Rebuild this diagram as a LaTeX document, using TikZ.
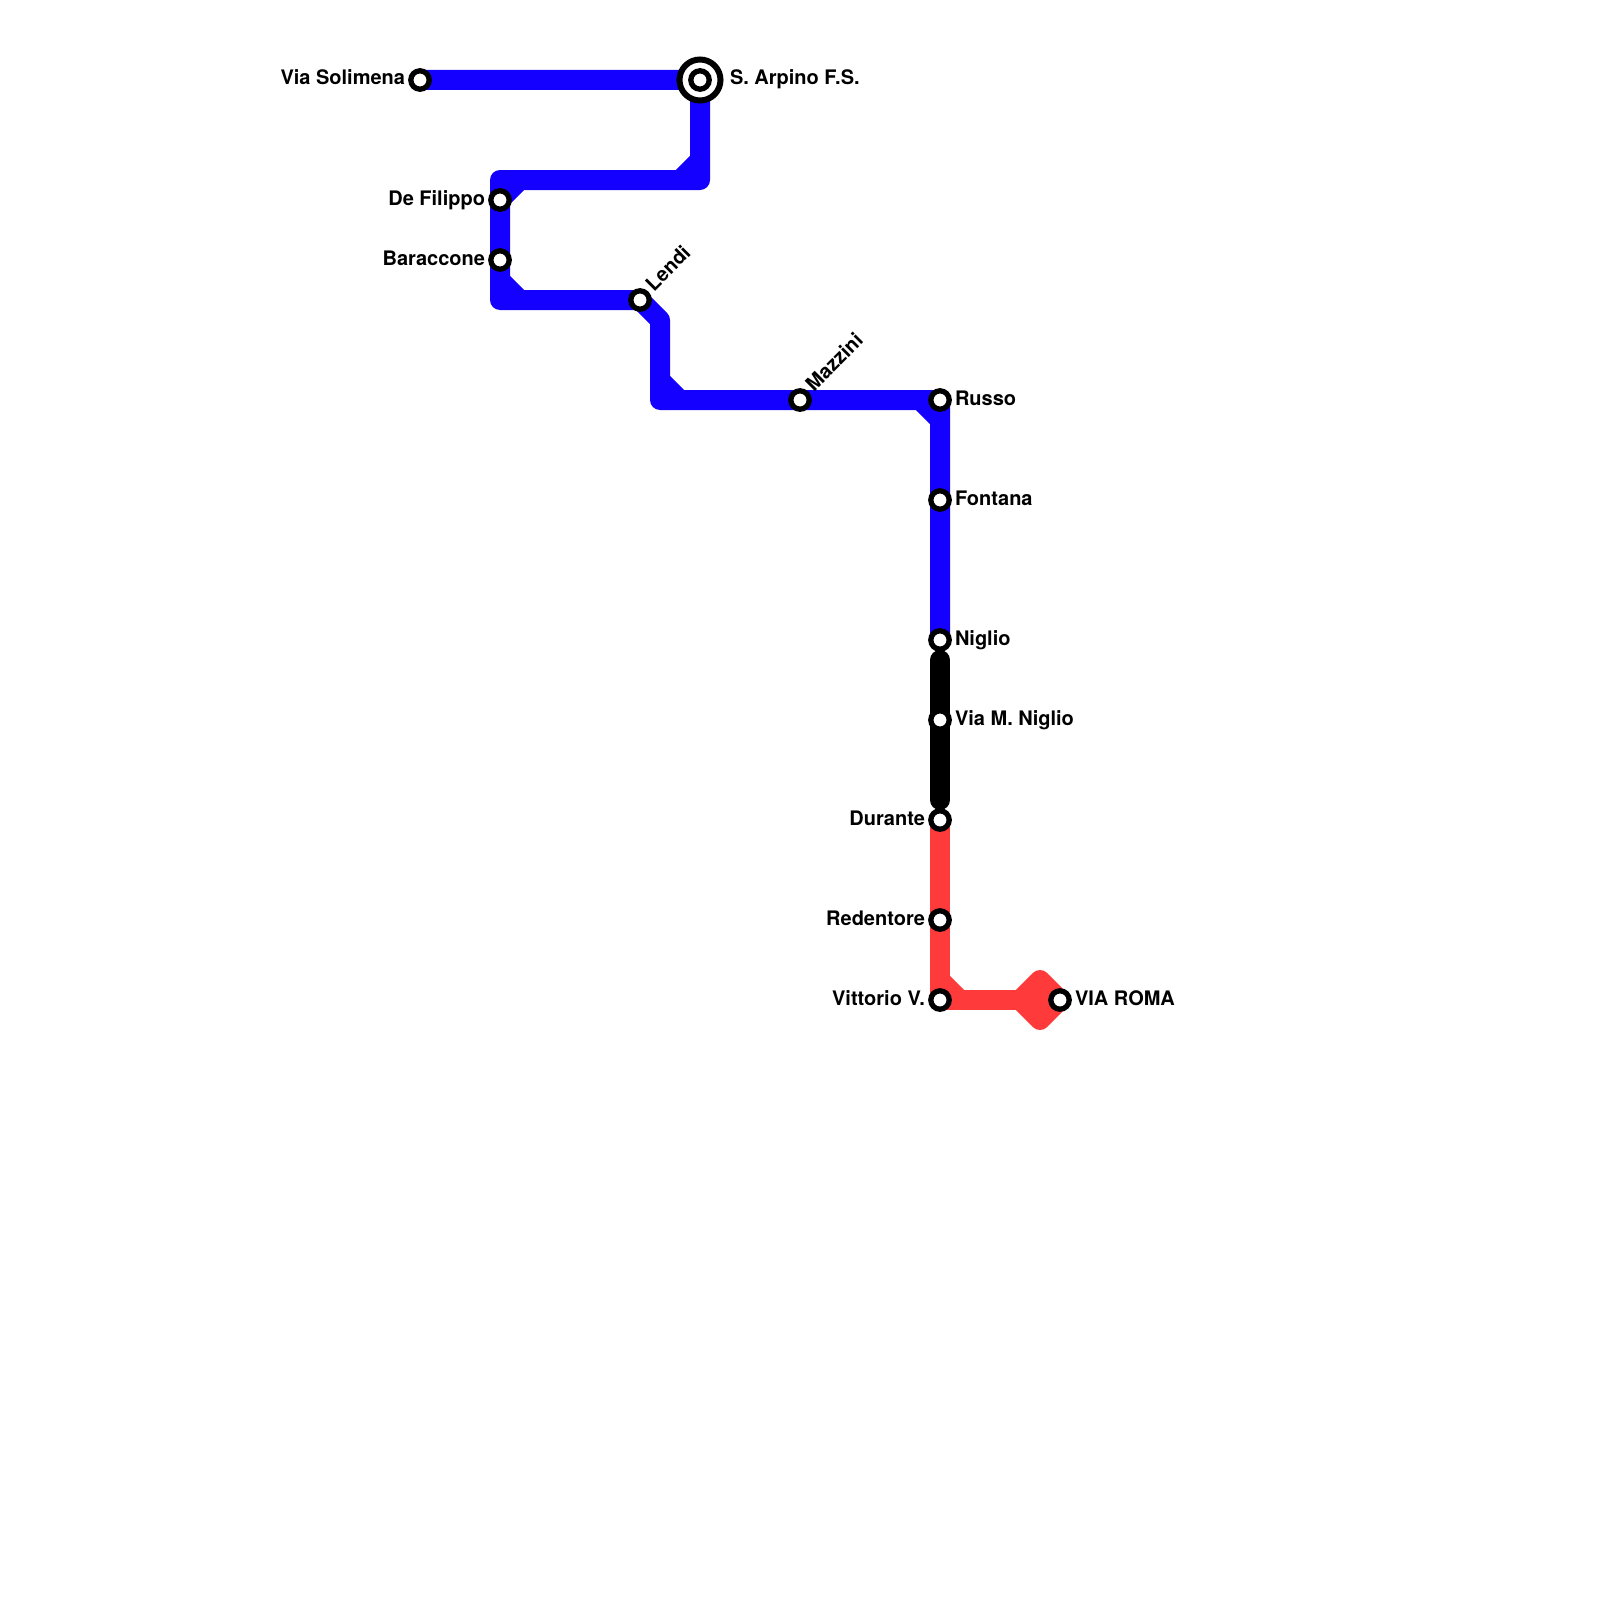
\documentclass[tikz,border=0pt]{standalone}
\usepackage{fontspec}
\setmainfont{TeX Gyre Heros}
\usetikzlibrary{backgrounds}
\tikzset{
  x=1pt,y=-1pt,
  stn/.style={circle,draw=black,fill=white,line width=5.3pt,minimum size=18.4pt,inner sep=0pt,outer sep=0pt},
  hub/.style={circle,draw=black,fill=white,line width=6pt,minimum size=41pt,inner sep=0pt,outer sep=0pt},
  lbl/.style={font=\fontsize{20}{24}\selectfont\bfseries,inner sep=0pt,outer sep=0pt,text=black},
  lleft/.style={lbl,anchor=base east},
  lright/.style={lbl,anchor=base west},
  ldiag/.style={lbl,anchor=base west,rotate=45},
  route/.style={line width=20pt,line join=round,line cap=butt},
  blueroute/.style={route,draw=lineblue},
  redroute/.style={route,draw=linered},
  blackroute/.style={route,draw=black,line cap=round},
}
\definecolor{lineblue}{HTML}{1400FF}
\definecolor{linered}{HTML}{FF3A3A}
\begin{document}
\begin{tikzpicture}
\useasboundingbox (0,0) rectangle (1600,1600);
% stations
\node[hub] (arpinoring) at (700,80) {};
\node[stn] (arpino) at (700,80) {};
\node[stn] (solimena) at (420,80) {};
\node[stn] (filippo) at (500,200) {};
\node[stn] (baraccone) at (500,260) {};
\node[stn] (lendi) at (640,300) {};
\node[stn] (mazzini) at (800,400) {};
\node[stn] (russo) at (940,400) {};
\node[stn] (fontana) at (940,500) {};
\node[stn] (niglio) at (940,640) {};
\node[stn] (vianiglio) at (940,720) {};
\node[stn] (durante) at (940,820) {};
\node[stn] (redentore) at (940,920) {};
\node[stn] (vittorio) at (940,1000) {};
\node[stn] (roma) at (1060,1000) {};
% labels
\node[lleft] (tsol) at (405,85) {Via Solimena};
\node[lright] (tarp) at (730,85) {S. Arpino F.S.};
\node[lleft] (tfil) at (485,205) {De Filippo};
\node[lleft] (tbar) at (485,265) {Baraccone};
\node[ldiag] (tlen) at (654,292) {Lendi};
\node[ldiag] (tmaz) at (814,392) {Mazzini};
\node[lright] (trus) at (955,405) {Russo};
\node[lright] (tfon) at (955,505) {Fontana};
\node[lright] (tnig) at (955,645) {Niglio};
\node[lright] (tvia) at (955,725) {Via M. Niglio};
\node[lleft] (tdur) at (925,825) {Durante};
\node[lleft] (tred) at (925,925) {Redentore};
\node[lleft] (tvit) at (925,1005) {Vittorio V.};
\node[lright] (trom) at (1075,1005) {VIA ROMA};
% bends
\coordinate (b1) at (700,180);
\coordinate (b1a) at (700,160);
\coordinate (b1b) at (680,180);
\coordinate (b2) at (500,180);
\coordinate (b2a) at (520,180);
\coordinate (b3) at (500,300);
\coordinate (b3a) at (500,280);
\coordinate (b3b) at (520,300);
\coordinate (b4) at (660,320);
\coordinate (b5) at (660,400);
\coordinate (b5a) at (660,380);
\coordinate (b5b) at (680,400);
\coordinate (b6) at (940,420);
\coordinate (b6a) at (920,400);
\coordinate (k1) at (940,660);
\coordinate (k2) at (940,800);
\coordinate (r1) at (940,980);
\coordinate (r2) at (960,1000);
\coordinate (d1) at (1020,1000);
\coordinate (d2) at (1040,980);
\coordinate (d3) at (1040,1020);
\begin{pgfonlayer}{background}
\draw[blueroute] (solimena.center) -- (arpino.center) -- (b1) -- (b2) -- (b3) -- (lendi.center) -- (b4) -- (b5) -- (russo.center) -- (niglio.center);
\draw[blueroute] (b1a) -- (b1b);
\draw[blueroute] (filippo.center) -- (b2a);
\draw[blueroute] (b3a) -- (b3b);
\draw[blueroute] (b5a) -- (b5b);
\draw[blueroute] (b6a) -- (b6);
\draw[redroute] (durante.center) -- (vittorio.center) -- (roma.center);
\draw[redroute] (r1) -- (r2);
\draw[redroute] (d1) -- (d2) -- (roma.center) -- (d3) -- cycle;
\draw[blackroute] (k1) -- (k2);
\end{pgfonlayer}
\end{tikzpicture}
\end{document}
